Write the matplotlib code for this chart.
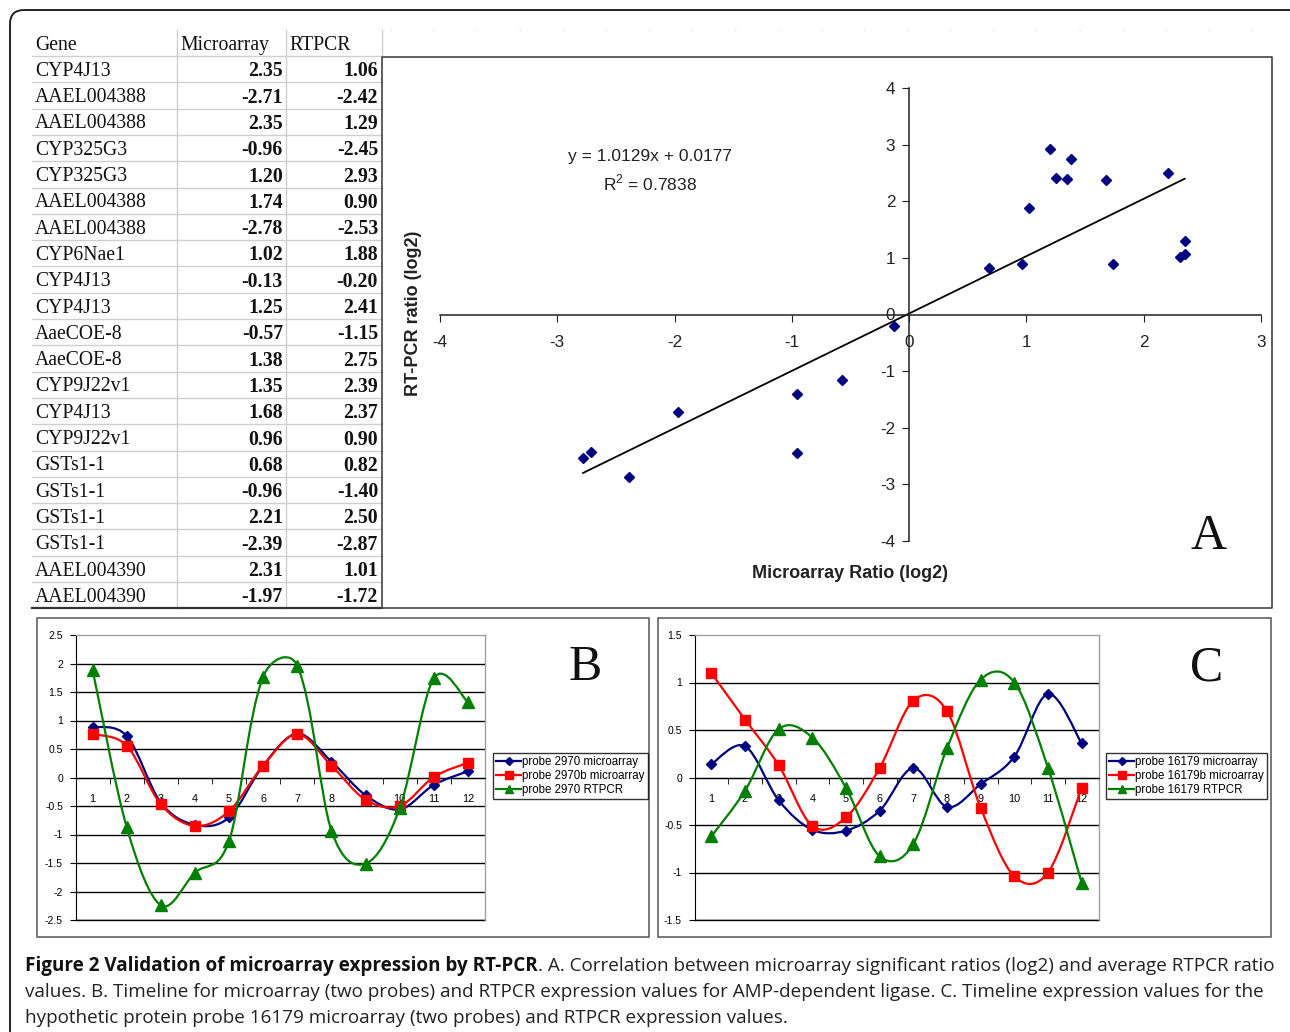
import numpy as np
import matplotlib
matplotlib.use("Agg")
import matplotlib.pyplot as plt
from matplotlib.path import Path
from matplotlib.patches import PathPatch, Rectangle, FancyBboxPatch
from matplotlib.lines import Line2D

# ---------------- data ----------------
genes = ["CYP4J13", "AAEL004388", "AAEL004388", "CYP325G3", "CYP325G3", "AAEL004388",
         "AAEL004388", "CYP6Nae1", "CYP4J13", "CYP4J13", "AaeCOE-8", "AaeCOE-8",
         "CYP9J22v1", "CYP4J13", "CYP9J22v1", "GSTs1-1", "GSTs1-1", "GSTs1-1",
         "GSTs1-1", "AAEL004390", "AAEL004390"]
microarray = [2.35, -2.71, 2.35, -0.96, 1.20, 1.74, -2.78, 1.02, -0.13, 1.25, -0.57,
              1.38, 1.35, 1.68, 0.96, 0.68, -0.96, 2.21, -2.39, 2.31, -1.97]
rtpcr = [1.06, -2.42, 1.29, -2.45, 2.93, 0.90, -2.53, 1.88, -0.20, 2.41, -1.15,
         2.75, 2.39, 2.37, 0.90, 0.82, -1.40, 2.50, -2.87, 1.01, -1.72]
fit_slope = 1.0129
fit_intercept = 0.0177
fit_r2 = 0.7838

timepoints = list(range(1, 13))
b_probe_2970 = [0.89, 0.73, -0.44, -0.83, -0.70, 0.21, 0.77, 0.28, -0.31, -0.56, -0.13, 0.11]
b_probe_2970b = [0.76, 0.56, -0.47, -0.85, -0.59, 0.21, 0.76, 0.21, -0.39, -0.50, 0.01, 0.26]
b_rtpcr_2970 = [1.89, -0.87, -2.24, -1.67, -1.11, 1.77, 1.96, -0.93, -1.51, -0.54, 1.74, 1.32]

c_probe_16179 = [0.14, 0.33, -0.24, -0.55, -0.56, -0.35, 0.10, -0.31, -0.07, 0.22, 0.88, 0.36]
c_probe_16179b = [1.10, 0.61, 0.13, -0.51, -0.42, 0.10, 0.81, 0.70, -0.32, -1.04, -1.00, -0.11]
c_rtpcr_16179 = [-0.62, -0.14, 0.51, 0.42, -0.11, -0.83, -0.70, 0.31, 1.03, 1.00, 0.10, -1.11]

b_labels = ["probe 2970 microarray", "probe 2970b microarray", "probe 2970 RTPCR"]
c_labels = ["probe 16179 microarray", "probe 16179b microarray", "probe 16179 RTPCR"]

caption_bold = "Figure 2 Validation of microarray expression by RT-PCR"
caption_lines = [
    ". A. Correlation between microarray significant ratios (log2) and average RTPCR ratio",
    "values. B. Timeline for microarray (two probes) and RTPCR expression values for AMP-dependent ligase. C. Timeline expression values for the",
    "hypothetic protein probe 16179 microarray (two probes) and RTPCR expression values.",
]

# ---------------- figure ----------------
W, H = 1290, 1032
plt.rcParams["axes.unicode_minus"] = False
plt.rcParams["mathtext.fontset"] = "custom"
plt.rcParams["mathtext.rm"] = "Liberation Sans"
fig = plt.figure(figsize=(W / 100, H / 100), dpi=100)
fig.patch.set_facecolor("white")

SANS = ["Liberation Sans", "DejaVu Sans"]
SERIF = ["Liberation Serif", "DejaVu Serif"]
CAP = ["Liberation Sans Narrow", "Open Sans", "DejaVu Sans"]


def px_axes(x0, y0, x1, y1):
    return fig.add_axes([x0 / W, 1 - y1 / H, (x1 - x0) / W, (y1 - y0) / H])


# overlay in pixel coordinates
ov = fig.add_axes([0, 0, 1, 1], zorder=0)
ov.set_xlim(0, W)
ov.set_ylim(H, 0)
ov.axis("off")

# outer rounded frame
ov.add_patch(FancyBboxPatch((10, 10), 1300, 1060, boxstyle="round,pad=0,rounding_size=14",
                            fill=False, edgecolor="#222222", lw=1.4, clip_on=False))

# ---------------- table ----------------
row_h = 26.3
top = 56
tx0, tx1 = 32, 382
TFS = 14.2
for i in range(len(genes)):
    ov.plot([tx0, tx1], [top + row_h * i] * 2, color="#cfcfcf", lw=1)
for xv in (177, 286):
    ov.plot([xv, xv], [30, 608], color="#cfcfcf", lw=1)
ov.plot([382, 382], [30, 57], color="#cfcfcf", lw=1)
ov.plot([tx0, 382], [608, 608], color="#333333", lw=1.6)

for xh, txt in ((35, "Gene"), (180, "Microarray"), (289, "RTPCR")):
    ov.text(xh, 45.5, txt, family=SERIF, fontsize=TFS, va="center", ha="left", color="#111")
for i, (g, m, r) in enumerate(zip(genes, microarray, rtpcr)):
    yc = top + row_h * i + row_h / 2 + 2.2
    ov.text(35, yc, g, family=SERIF, fontsize=TFS, va="center", ha="left", color="#111")
    ov.text(283, yc, f"{m:.2f}", family=SERIF, fontsize=TFS, va="center", ha="right",
            fontweight="bold", color="#111")
    ov.text(378, yc, f"{r:.2f}", family=SERIF, fontsize=TFS, va="center", ha="right",
            fontweight="bold", color="#111")

# panel A box
ov.plot([382, 382, 1272, 1272, 382], [608, 57, 57, 608, 608], color="#444444", lw=1.2)
ov.plot([390, 1270], [30, 30], color="#dddddd", lw=1, ls=(0, (1, 30)))

# ---------------- panel A scatter ----------------
axA = px_axes(440, 88, 1261, 541)
axA.set_facecolor("none")
axA.set_xlim(-4, 3)
axA.set_ylim(-4, 4)
for s in ("top", "right"):
    axA.spines[s].set_visible(False)
axA.spines["left"].set_position(("data", 0))
axA.spines["bottom"].set_position(("data", 0))
for s in ("left", "bottom"):
    axA.spines[s].set_color("#222")
    axA.spines[s].set_linewidth(1.1)
axA.set_xticks(range(-4, 4))
axA.set_yticks(range(-4, 5))
axA.tick_params(axis="x", direction="out", length=5, pad=10, labelsize=12.3, colors="#222")
axA.tick_params(axis="y", direction="out", length=5, pad=5, labelsize=12.3, colors="#222")
for lab in axA.get_xticklabels() + axA.get_yticklabels():
    lab.set_family(SANS)
axA.plot(microarray, rtpcr, ls="none", marker="D", ms=5.2, color="#000080", zorder=3,
         clip_on=False)
xs_fit = np.array([min(microarray), max(microarray)])
axA.plot(xs_fit, fit_slope * xs_fit + fit_intercept, color="black", lw=1.3, zorder=2)
ov.text(650, 156, f"y = {fit_slope:.4f}x + {fit_intercept:.4f}", family=SANS, fontsize=12.5,
        ha="center", va="center", color="#222")
ov.text(650, 183, r"R$^{\mathregular{2}}$" + f" = {fit_r2:.4f}", family=SANS, fontsize=12.5,
        ha="center", va="center", color="#222")
ov.text(850, 573, "Microarray Ratio (log2)", family=SANS, fontsize=13, fontweight="bold",
        ha="center", va="center", color="#222")
ov.text(413, 313, "RT-PCR ratio (log2)", family=SANS, fontsize=13, fontweight="bold",
        ha="center", va="center", rotation=90, color="#222")
ov.text(1209, 537, "A", family=SERIF, fontsize=36, ha="center", va="center", color="#111")


# ---------------- panels B / C ----------------
def smooth_path(xs, ys, sx, sy):
    """Excel-like smoothed line (Bezier with Catmull-Rom tangents).
    sx, sy: pixels per data unit, used to temper tangents next to very
    unequal segments."""
    pts = np.column_stack([xs, ys]).astype(float)
    n = len(pts)
    scr = pts * np.array([sx, sy])

    def tangent(i):
        p0 = pts[i - 1] if i > 0 else pts[i]
        p2 = pts[i + 1] if i < n - 1 else pts[i]
        return (p2 - p0) / 6.0

    def seglen(a, b):
        return float(np.hypot(*(scr[b] - scr[a])))

    verts = [pts[0]]
    codes = [Path.MOVETO]
    for i in range(n - 1):
        t1 = tangent(i)
        t2 = tangent(i + 1)
        d = seglen(i, i + 1)
        if i > 0:
            dp = seglen(i - 1, i)
            if max(dp, d) / max(min(dp, d), 1e-9) > 4:
                t1 = t1 * 2 * np.sqrt(d) / (np.sqrt(dp) + np.sqrt(d))
        if i + 2 < n:
            dn = seglen(i + 1, i + 2)
            if max(dn, d) / max(min(dn, d), 1e-9) > 4:
                t2 = t2 * 2 * np.sqrt(d) / (np.sqrt(dn) + np.sqrt(d))
        verts += [pts[i] + t1, pts[i + 1] - t2, pts[i + 1]]
        codes += [Path.CURVE4] * 3
    return Path(verts, codes)


styles = [
    dict(color="#000080", marker="D", ms=5.0),
    dict(color="#ff0000", marker="s", ms=7.0),
    dict(color="#008000", marker="^", ms=8.0),
]


def timeline(box, area, ylim, series, labels, legend_xy, letter_xy, letter):
    bx0, by0, bx1, by1 = box
    ov.add_patch(Rectangle((bx0, by0), bx1 - bx0, by1 - by0, fill=False, edgecolor="#555555",
                           lw=1.1))
    ax = px_axes(*area)
    ax.set_facecolor("none")
    ax.set_xlim(0.5, 12.5)
    ax.set_ylim(*ylim)
    sx = (area[2] - area[0]) / 12.0
    sy = (area[3] - area[1]) / (ylim[1] - ylim[0])
    yt = np.arange(ylim[0], ylim[1] + 0.001, 0.5)
    ax.set_yticks(yt)
    ax.set_yticklabels([f"{v:g}" for v in yt])
    ax.hlines(yt[:-1], 0.5, 12.5, color="black", lw=1, zorder=1)
    for s in ("top", "right"):
        ax.spines[s].set_color("#a0a0a0")
        ax.spines[s].set_linewidth(1)
    ax.spines["left"].set_color("black")
    ax.spines["bottom"].set_position(("data", 0))
    ax.spines["bottom"].set_color("black")
    ax.plot([0.5, 12.5], [ylim[0], ylim[0]], color="black", lw=1, clip_on=False)
    ax.set_xticks(timepoints)
    ax.set_xticks(np.arange(0.5, 13, 1.0), minor=True)
    ax.tick_params(axis="x", which="major", length=0, pad=12, labelsize=7.8)
    ax.tick_params(axis="x", which="minor", length=4, direction="out")
    ax.tick_params(axis="y", length=4, direction="out", pad=5, labelsize=7.5)
    for lab in ax.get_xticklabels() + ax.get_yticklabels():
        lab.set_family(SANS)
    handles = []
    for k, (vals, st) in enumerate(zip(series, styles)):
        ax.add_patch(PathPatch(smooth_path(timepoints, vals, sx, sy), fill=False,
                               edgecolor=st["color"], lw=1.6, zorder=3 + 2 * k))
        ax.plot(timepoints, vals, ls="none", marker=st["marker"], ms=st["ms"],
                color=st["color"], zorder=4 + 2 * k, clip_on=False)
        handles.append(Line2D([], [], color=st["color"], marker=st["marker"],
                              ms=st["ms"] * 0.8, lw=1.6))
    leg = ax.legend(handles, labels, loc="upper left",
                    bbox_to_anchor=(legend_xy[0] / W, 1 - legend_xy[1] / H),
                    bbox_transform=fig.transFigure, frameon=True, fancybox=False,
                    edgecolor="black", borderpad=0.25, labelspacing=0.2,
                    handlelength=2.2, handletextpad=0.1, borderaxespad=0,
                    prop=dict(family=SANS, size=8.3))
    leg.get_frame().set_linewidth(1)
    ov.text(letter_xy[0], letter_xy[1], letter, family=SERIF, fontsize=36, ha="center",
            va="center", color="#111")
    return ax


timeline((37, 618, 649, 937), (75.5, 635, 485, 920), (-2.5, 2.5),
         [b_probe_2970, b_probe_2970b, b_rtpcr_2970], b_labels, (493, 753), (585, 668), "B")
timeline((658, 618, 1271, 937), (694.5, 635, 1098.5, 920), (-1.5, 1.5),
         [c_probe_16179, c_probe_16179b, c_rtpcr_16179], c_labels, (1106, 753), (1207, 668), "C")

# ---------------- caption ----------------
renderer = fig.canvas.get_renderer()


def cap_texts(fs):
    t1 = ov.text(25, 966, caption_bold, family=CAP, fontsize=fs, fontweight="bold",
                 va="center", ha="left", color="#111")
    w1 = t1.get_window_extent(renderer).width
    t2 = ov.text(25 + w1, 966, caption_lines[0], family=CAP, fontsize=fs, va="center",
                 ha="left", color="#222")
    w2 = t2.get_window_extent(renderer).width
    return [t1, t2], w1 + w2


fs0 = 13.0
texts, wtot = cap_texts(fs0)
for t in texts:
    t.remove()
fs = fs0 * (1270 - 25) / wtot
cap_texts(fs)
ov.text(25, 992, caption_lines[1], family=CAP, fontsize=fs, va="center", ha="left", color="#222")
ov.text(25, 1018, caption_lines[2], family=CAP, fontsize=fs, va="center", ha="left", color="#222")

fig.savefig("out.png", dpi=100, facecolor="white")
